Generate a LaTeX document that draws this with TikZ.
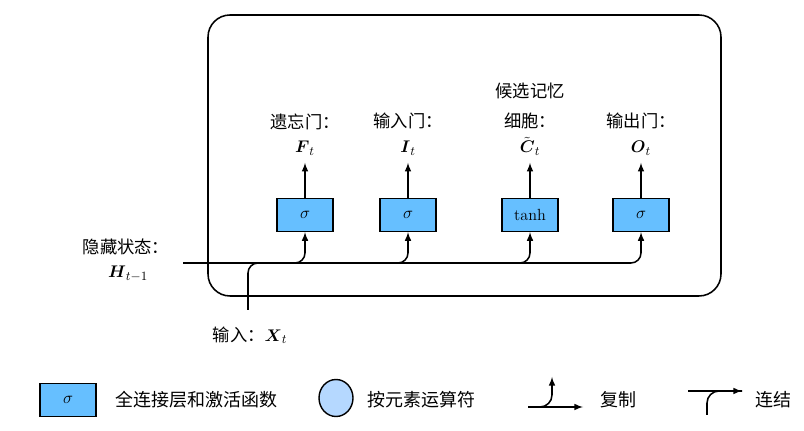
\documentclass[tikz,border=0pt]{standalone}
\usepackage{amsmath,amssymb}
\usepackage{fontspec}
\newfontfamily\cjk{Noto Sans CJK SC}
\usepackage{tikz}
\usetikzlibrary{calc,shapes.geometric}
\definecolor{fcblue}{HTML}{66BFFF}
\definecolor{opblue}{HTML}{B5D8FF}
\tikzset{
  gatebox/.style={draw,line width=1pt,fill=fcblue,minimum width=1.4cm,minimum height=0.825cm,font=\fontsize{11.5}{13}\selectfont},
  wire/.style={line width=1.1pt},
  cjklabel/.style={font=\cjk\fontsize{12.3}{14}\selectfont,inner sep=1pt},
  mathlabel/.style={font=\fontsize{13}{15}\selectfont,inner sep=1pt,anchor=base},
  leglabel/.style={font=\cjk\fontsize{12.8}{15}\selectfont,anchor=west,inner sep=0pt},
}

\begin{document}
\begin{tikzpicture}
\useasboundingbox (0,0) rectangle (20.1,10.775);
% LSTM cell
\draw[line width=1.1pt,rounded corners=0.55cm] (5.2,3.375) rectangle (18.025,10.4);

% Gates
\node[gatebox] (fgate) at (7.625,5.4) {$\sigma$};
\node[gatebox] (igate) at (10.2,5.4) {$\sigma$};
\node[gatebox] (cgate) at (13.25,5.4) {tanh};
\node[gatebox] (ogate) at (16.025,5.4) {$\sigma$};

% Gate outputs
\node[mathlabel] (Ft) at (7.625,6.95) {$\boldsymbol{F}_t$};
\node[mathlabel] (It) at (10.2,6.95) {$\boldsymbol{I}_t$};
\node[mathlabel] (Ct) at (13.25,6.95) {$\tilde{\boldsymbol{C}}_t$};
\node[mathlabel] (Ot) at (16.025,6.95) {$\boldsymbol{O}_t$};
\node[cjklabel] (flabel) at (7.625,7.74) {遗忘门：};
\node[cjklabel] (ilabel) at (10.2,7.74) {输入门：};
\node[cjklabel] (clabel) at (13.25,8.49) {候选记忆};
\node[cjklabel] (clabelb) at (13.25,7.74) {细胞：};
\node[cjklabel] (olabel) at (16.025,7.74) {输出门：};
\foreach \g/\o in {fgate/Ft,igate/It,cgate/Ct,ogate/Ot}
  \draw[wire,-latex,shorten >=4pt] (\g) -- (\o);

% Inputs
\node[cjklabel] (hlabel) at (3.15,4.6) {隐藏状态：};
\node[mathlabel] (Ht) at (3.2,3.825) {$\boldsymbol{H}_{t-1}$};
\node[cjklabel] (xlabel) at (6.25,2.4) {输入：\fontsize{13}{15}\selectfont$\boldsymbol{X}_t$};
\coordinate (hin) at (4.575,4.2);
\coordinate (xin) at (6.2,3.025);
\draw[wire,-latex,rounded corners=0.25cm] (hin) -| (ogate.south);
\draw[wire,-latex,rounded corners=0.25cm] (xin) |- (hin -| fgate.south) -- (fgate.south);
\foreach \g in {igate,cgate}
  \draw[wire,-latex,rounded corners=0.25cm] ($(hin -| \g.south)+(-1,0)$) -- (hin -| \g.south) -- (\g.south);

% Legend
\node[gatebox] (legfc) at (1.7,0.775) {$\sigma$};
\node[leglabel] (legfctext) at (2.875,0.775) {全连接层和激活函数};
\node[ellipse,draw,line width=1pt,fill=opblue,minimum width=0.85cm,minimum height=0.925cm] (legop) at (8.4,0.825) {};
\node[leglabel] (legoptext) at (9.175,0.775) {按元素运算符};
\coordinate (cpin) at (13.2,0.6);
\coordinate (cpout) at (14.575,0.6);
\coordinate (cpup) at (13.8,1.35);
\draw[wire,-latex] (cpin) -- (cpout);
\draw[wire,-latex,rounded corners=0.3cm] (cpin) -| (cpup);
\node[leglabel] (cptext) at (15,0.775) {复制};
\coordinate (ctin) at (17.2,1.0);
\coordinate (ctout) at (18.55,1.0);
\coordinate (ctup) at (17.675,0.4);
\draw[wire,-latex] (ctin) -- (ctout);
\draw[wire,rounded corners=0.3cm] (ctup) |- (ctout);
\node[leglabel] (cttext) at (18.875,0.775) {连结};
\end{tikzpicture}
\end{document}
